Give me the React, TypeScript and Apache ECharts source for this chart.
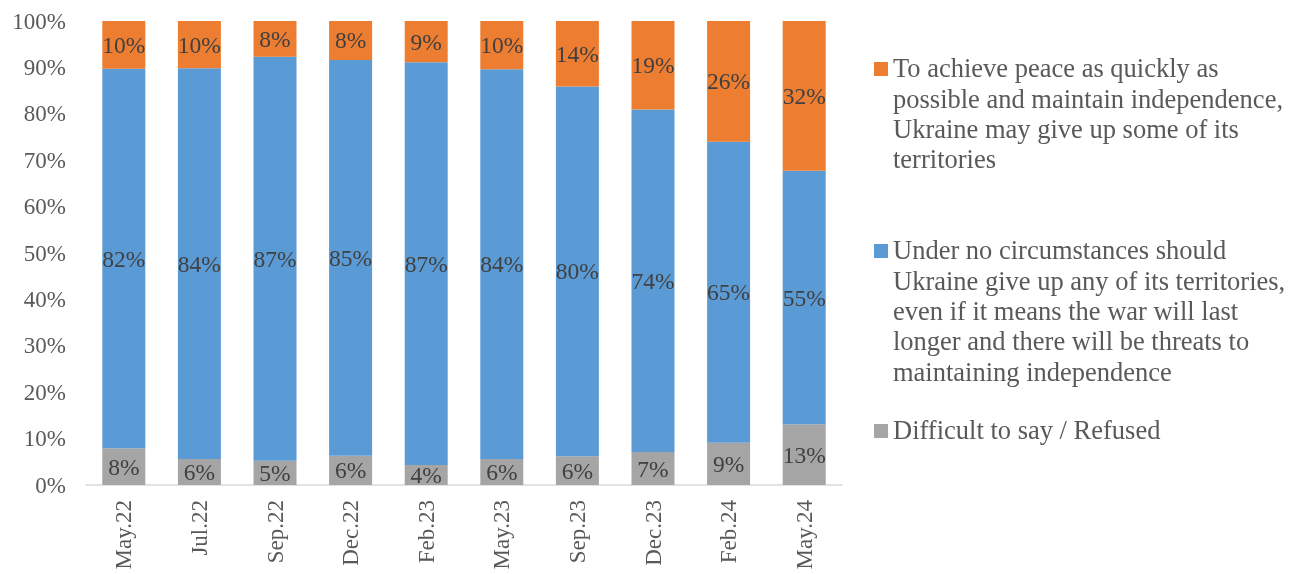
import React, { useEffect, useRef } from "react";
import * as echarts from "echarts";

const categories = ["May.22", "Jul.22", "Sep.22", "Dec.22", "Feb.23", "May.23", "Sep.23", "Dec.23", "Feb.24", "May.24"];
const difficultValues = [7.9, 5.6, 5.2, 6.3, 4.3, 5.6, 6.2, 7.1, 9.1, 13.1];
const noConcessionValues = [81.8, 84.2, 87.1, 85.3, 86.8, 84.0, 79.7, 73.8, 64.9, 54.6];
const concessionValues = [10.3, 10.2, 7.7, 8.4, 8.9, 10.4, 14.1, 19.1, 26.0, 32.3];
const yTicks = [0, 10, 20, 30, 40, 50, 60, 70, 80, 90, 100];

const seriesNames = {
  concession: "To achieve peace as quickly as possible and maintain independence, Ukraine may give up some of its territories",
  noConcession: "Under no circumstances should Ukraine give up any of its territories, even if it means the war will last longer and there will be threats to maintaining independence",
  difficult: "Difficult to say / Refused",
};
const legendLines = {
  concession: "To achieve peace as quickly as\npossible and maintain independence,\nUkraine may give up some of its\nterritories",
  noConcession: "Under no circumstances should\nUkraine give up any of its territories,\neven if it means the war will last\nlonger and there will be threats to\nmaintaining independence",
  difficult: "Difficult to say / Refused",
};

const COLORS = { concession: "#ED7D31", noConcession: "#5B9BD5", difficult: "#A5A5A5" };
const FONT = '"Liberation Serif", "Times New Roman", serif';

export default function App() {
  const ref = useRef<HTMLDivElement>(null);
  useEffect(() => {
    if (!ref.current) return;
    const chart = echarts.init(ref.current, undefined, { renderer: "svg" });
    const label = {
      show: true,
      position: "inside",
      fontFamily: FONT,
      fontSize: 23.5,
      color: "#404040",
      formatter: (p: any) => Math.round(p.value) + "%",
    };
    const mk = (name: string, data: number[], color: string) => ({
      name,
      type: "bar",
      stack: "total",
      barWidth: 43,
      data,
      itemStyle: { color },
      label,
    });
    const legendItem = (y: number, color: string, text: string) => ({
      type: "group",
      children: [
        { type: "rect", shape: { x: 874, y: y + 9, width: 14, height: 14 }, style: { fill: color } },
        {
          type: "text",
          x: 893,
          y: y,
          style: { text, font: `26.5px ${FONT}`, fill: "#595959", lineHeight: 30.4, verticalAlign: "top" },
        },
      ],
    });
    chart.setOption({
      animation: false,
      grid: { left: 86, top: 21, width: 756, height: 464 },
      xAxis: {
        type: "category",
        data: categories,
        axisLine: { lineStyle: { color: "#D9D9D9", width: 1.5 } },
        axisTick: { show: false },
        axisLabel: { rotate: 90, margin: 15, fontFamily: FONT, fontSize: 23, color: "#595959" },
      },
      yAxis: {
        type: "value",
        min: yTicks[0],
        max: yTicks[yTicks.length - 1],
        interval: 10,
        splitLine: { show: false },
        axisLine: { show: false },
        axisTick: { show: false },
        axisLabel: { margin: 20, fontFamily: FONT, fontSize: 23, color: "#595959", formatter: "{value}%" },
      },
      series: [
        mk(seriesNames.difficult, difficultValues, COLORS.difficult),
        mk(seriesNames.noConcession, noConcessionValues, COLORS.noConcession),
        mk(seriesNames.concession, concessionValues, COLORS.concession),
      ],
      graphic: [
        legendItem(53, COLORS.concession, legendLines.concession),
        legendItem(235, COLORS.noConcession, legendLines.noConcession),
        legendItem(415, COLORS.difficult, legendLines.difficult),
      ],
    });
    return () => chart.dispose();
  }, []);
  return <div ref={ref} style={{ position: "fixed", left: 0, top: 0, width: 1290, height: 574 }} />;
}
